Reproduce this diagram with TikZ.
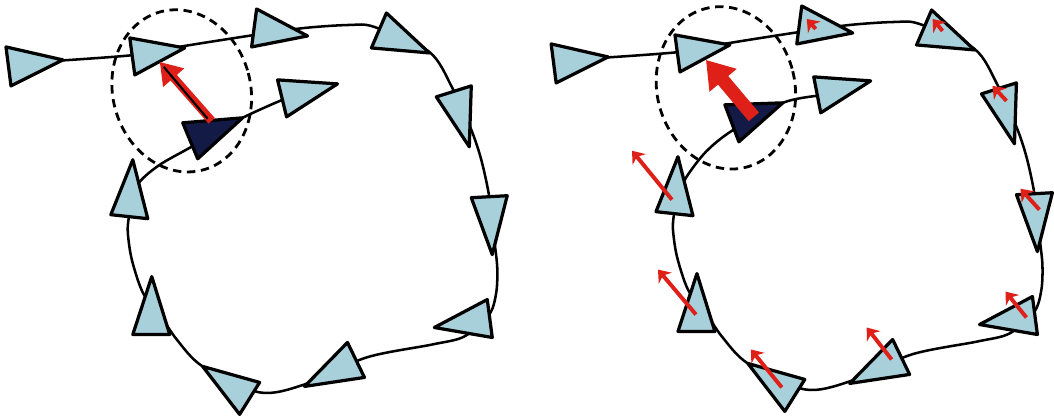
\documentclass[tikz,border=0pt]{standalone}
\usetikzlibrary{arrows.meta}
\definecolor{agentblue}{RGB}{168,208,218}
\definecolor{leadnavy}{RGB}{20,26,70}
\definecolor{forcered}{RGB}{222,32,24}

\begin{document}
\begin{tikzpicture}[
  x=0.025cm, y=-0.025cm,
  track/.style={line width=1.8pt},
  agent/.style={draw, fill=agentblue, line width=2.3pt, line join=round},
  leader/.style={agent, fill=leadnavy},
  zone/.style={line width=2pt, dash pattern=on 6pt off 4pt},
  nudge/.style={forcered, line width=2.8pt, -{Stealth[length=8pt, width=12pt, inset=2.5pt]}}
]
\fill[white] (0,0) rectangle (1054,417);

% the loop and the followers, same in both panels
\foreach \dx/\dy in {0/0, 546/-3} {
  \begin{scope}[shift={(\dx,\dy)}]
    \draw[track] plot[smooth, tension=0.5] coordinates {
      (55,61) (135,55) (185,46) (255,35) (305,28) (350,25) (375,27)
      (430,52) (453,88) (472,130) (482,160) (490,197) (495,240)
      (498,268) (497,293) (490,315) (465,337) (433,345) (367,358)
      (305,385) (260,393) (203,367) (177,340) (160,315) (143,293)
      (132,260) (128,233) (129,218) (133,200)};
  \end{scope}
}

% left panel: tail into the leader
\draw[track] plot[smooth, tension=0.5] coordinates {
  (133,200) (140,182) (160,165) (190,148) (243,118) (285,99)};
\draw[zone, rotate around={15:(182,91)}] (182,91) ellipse [x radius=69, y radius=82];

% right panel: leader moved up
\draw[track] plot[smooth, tension=0.5] coordinates {
  (679,197) (687,178) (707,152) (733,131) (784,103) (818,96)};
\draw[zone, rotate around={14:(727,88)}] (727,88) ellipse [x radius=69, y radius=82];

\foreach \dx/\dy in {0/0, 546/-3} {
  \begin{scope}[shift={(\dx,\dy)}]
    \foreach \ax/\ay/\bx/\by/\cx/\cy in {
      6/47/11/86/63/60, 130/38/135/75/185/48, 257/9/252/47/308/36,
      387/13/372/48/430/53, 437/97/472/86/470/147, 472/198/508/196/493/255,
      435/328/488/300/493/338, 348/343/365/378/305/387, 203/367/260/383/240/415,
      152/277/133/335/170/335, 133/160/111/215/148/219}
      \draw[agent] (\ax,\ay) -- (\bx,\by) -- (\cx,\cy) -- cycle;
  \end{scope}
}

% leaders and their last followers
\draw[leader] (183,123) -- (243,118) -- (198,159) -- cycle;
\draw[agent] (278,80) -- (338,84) -- (287,117) -- cycle;
\draw[leader] (726,105) -- (784,103) -- (740,142) -- cycle;
\draw[agent] (815,77) -- (872,81) -- (822,113) -- cycle;

% pull on the leader
\draw[forcered, line width=6pt, -{Triangle[length=15pt, width=19pt]}] (212,121) -- (160,62);
\draw[line width=1.5pt] (208,119) -- (164,67);
\draw[forcered, line width=9.5pt, -{Triangle[length=19pt, width=24pt]}] (755,117) -- (707,60);

% reaction spread along the loop
\foreach \tx/\ty/\hx/\hy in {
  817/29/808/19, 944/31/934/19, 1008/101/994/86, 1041/210/1022/189,
  1028/318/1007/292, 893/360/868/328, 783/388/752/350, 697/315/659/270,
  673/200/633/151}
  \draw[nudge] (\tx,\ty) -- (\hx,\hy);
\end{tikzpicture}
\end{document}
